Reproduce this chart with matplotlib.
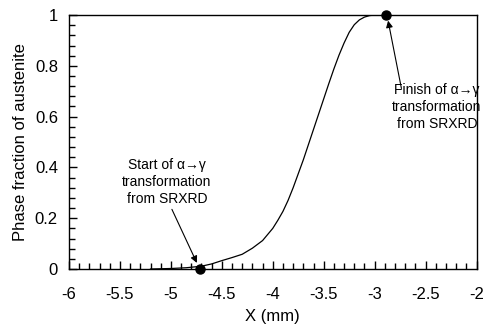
import matplotlib
matplotlib.use("Agg")
import matplotlib.pyplot as plt
from matplotlib.ticker import MultipleLocator

plt.rcParams['font.family'] = ['Liberation Sans', 'DejaVu Sans']

# Austenite phase fraction along X
x_mm = [-5.2, -5.0, -4.85, -4.7, -4.6, -4.5, -4.4, -4.3, -4.2, -4.1, -4.0,
        -3.95, -3.9, -3.85, -3.8, -3.75, -3.7, -3.65, -3.6, -3.55, -3.5,
        -3.45, -3.4, -3.35, -3.3, -3.25, -3.2, -3.15, -3.1, -3.05, -3.0,
        -2.9, -2.0]
fraction = [0.0, 0.002, 0.005, 0.011, 0.020, 0.033, 0.045, 0.058, 0.082, 0.112, 0.160,
            0.192, 0.227, 0.270, 0.320, 0.375, 0.430, 0.490, 0.550, 0.610, 0.670,
            0.730, 0.788, 0.842, 0.890, 0.932, 0.962, 0.981, 0.992, 0.998, 1.0,
            1.0, 1.0]

# SRXRD start / finish of the alpha -> gamma transformation
start_x, start_y = -4.71, 0.0
finish_x, finish_y = -2.885, 1.0

x_ticks = [-6, -5.5, -5, -4.5, -4, -3.5, -3, -2.5, -2]
x_tick_labels = ['-6', '-5.5', '-5', '-4.5', '-4', '-3.5', '-3', '-2.5', '-2']
y_ticks = [0, 0.2, 0.4, 0.6, 0.8, 1]
y_tick_labels = ['0', '0.2', '0.4', '0.6', '0.8', '1']

fig = plt.figure(figsize=(4.85, 3.35), dpi=100)
ax = fig.add_axes([0.1423, 0.197, 0.8402, 0.758])

ax.plot(x_mm, fraction, color='black', linewidth=0.9, zorder=3)
ax.plot([start_x, finish_x], [start_y, finish_y], 'o', color='black',
        markersize=6.5, clip_on=False, zorder=4)

ax.set_xlim(-6, -2)
ax.set_ylim(0, 1)
ax.set_xticks(x_ticks)
ax.set_xticklabels(x_tick_labels)
ax.set_yticks(y_ticks)
ax.set_yticklabels(y_tick_labels)
ax.xaxis.set_minor_locator(MultipleLocator(0.1))
ax.yaxis.set_minor_locator(MultipleLocator(0.04))

ax.tick_params(which='both', direction='in', top=False, right=False,
               labelsize=12, width=1.0)
ax.tick_params(axis='x', which='major', length=6, pad=13)
ax.tick_params(axis='y', which='major', length=6, pad=8)
ax.tick_params(which='minor', length=4)

for s in ax.spines.values():
    s.set_linewidth(1.0)

ax.set_xlabel('X (mm)', fontsize=12, labelpad=5)
ax.set_ylabel('Phase fraction of austenite', fontsize=12, labelpad=5)

note_style = dict(ha='center', va='center', fontsize=10, linespacing=1.25)
arrow_style = dict(arrowstyle='-|>', color='black', lw=0.8,
                   mutation_scale=10, shrinkA=0, shrinkB=0)

ax.text(-5.04, 0.343, 'Start of α→γ\ntransformation\nfrom SRXRD', **note_style)
ax.annotate('', xy=(-4.745, 0.024), xytext=(-4.99, 0.235), arrowprops=arrow_style)

ax.text(-2.39, 0.638, 'Finish of α→γ\ntransformation\nfrom SRXRD', **note_style)
ax.annotate('', xy=(-2.868, 0.978), xytext=(-2.737, 0.711), arrowprops=arrow_style)

fig.savefig('out.png', dpi=100)
